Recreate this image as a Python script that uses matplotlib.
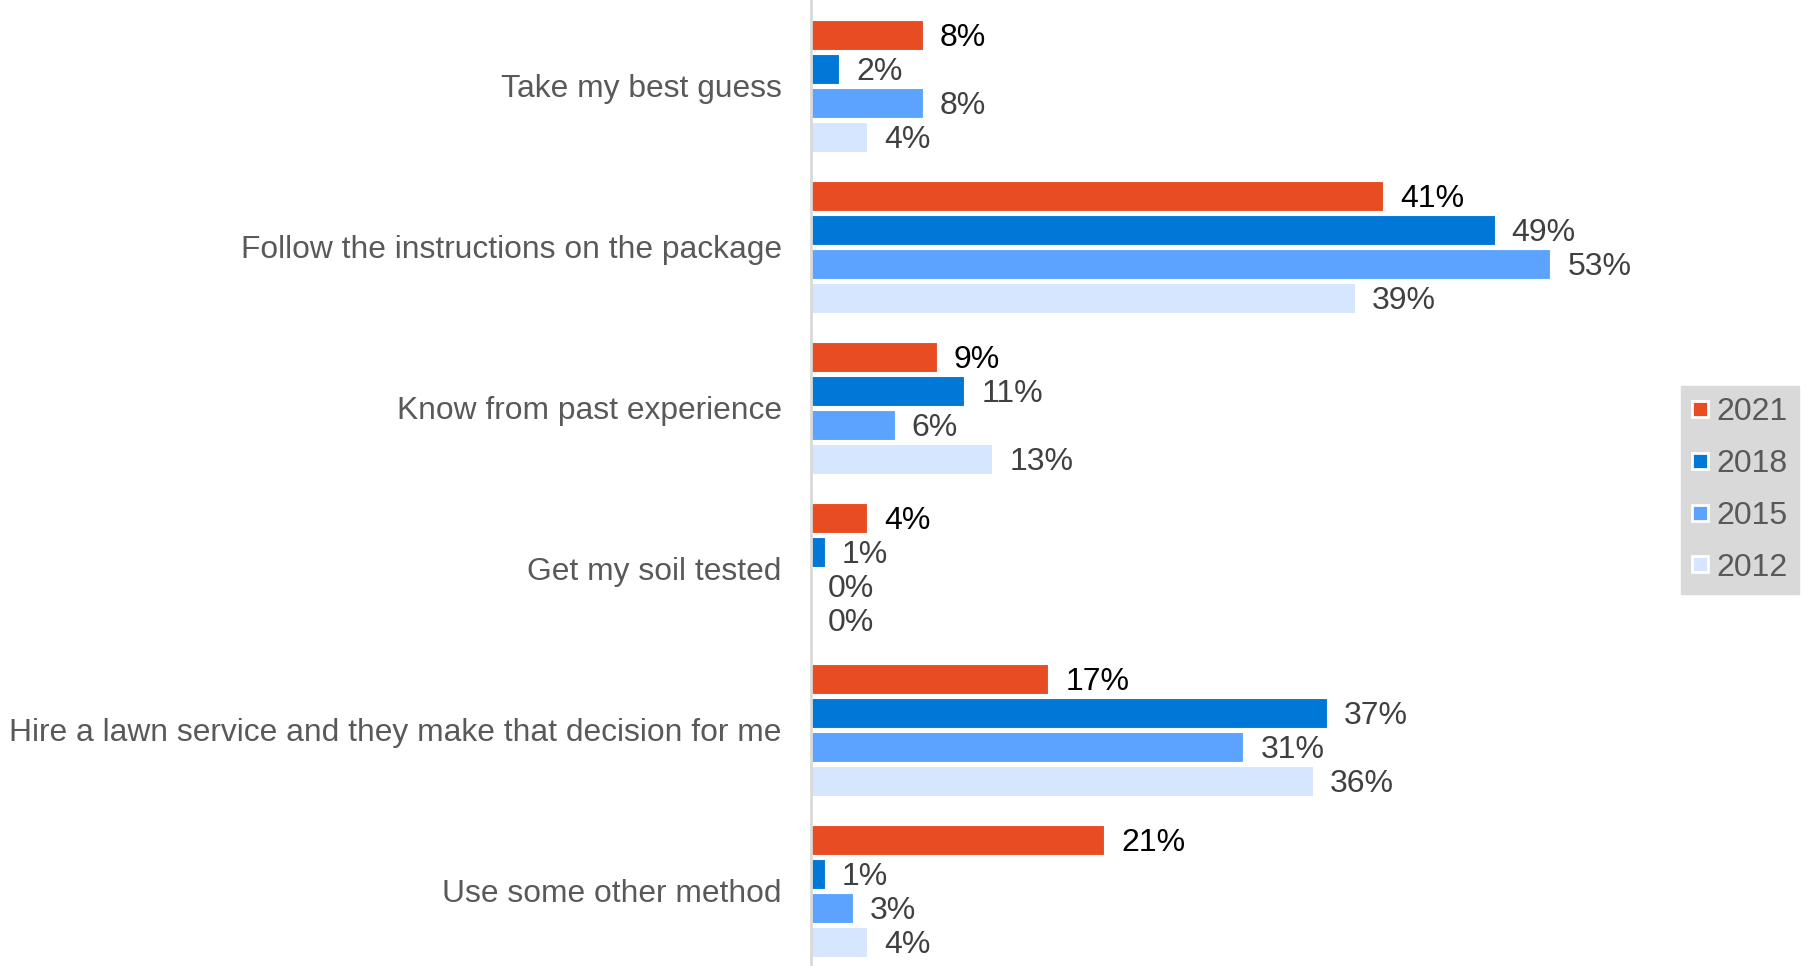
import matplotlib
matplotlib.use("Agg")
import matplotlib.pyplot as plt
from matplotlib.lines import Line2D
import numpy as np

categories = ["Take my best guess", "Follow the instructions on the package",
              "Know from past experience", "Get my soil tested",
              "Hire a lawn service and they make that decision for me",
              "Use some other method"]
years = ["2021", "2018", "2015", "2012"]
v2021 = [8, 41, 9, 4, 17, 21]
v2018 = [2, 49, 11, 1, 37, 1]
v2015 = [8, 53, 6, 0, 31, 3]
v2012 = [4, 39, 13, 0, 36, 4]
series = [v2021, v2018, v2015, v2012]
colors = ["#E84C22", "#0078D7", "#5BA3FF", "#D6E6FF"]
label_colors = ["#000000", "#404040", "#404040", "#404040"]

plt.rcParams['font.family'] = ['Liberation Sans', 'DejaVu Sans']
fig = plt.figure(figsize=(18.08, 9.66), dpi=100)
ax = fig.add_axes([811/1808, 0, 865/1808, 1])

y = np.arange(len(categories))
offsets = [-0.314, -0.102, 0.109, 0.320]
h = 0.186
for s, vals in enumerate(series):
    ax.barh(y + offsets[s], vals, height=h, color=colors[s], edgecolor='white', linewidth=0.8)
    for i, v in enumerate(vals):
        ax.annotate(f"{v:.0f}%", (v, y[i] + offsets[s]), xytext=(17, -3),
                    textcoords='offset pixels',
                    va='center', ha='left', fontsize=23, color=label_colors[s])

ax.set_xlim(0, 62)
ax.set_ylim(5.469, -0.531)
ax.set_yticks(y)
ax.set_yticklabels(categories, fontsize=22.9, color='#595959')
ax.tick_params(axis='y', length=0, pad=21)
ax.set_xticks([])
for sp in ['top', 'right', 'bottom']:
    ax.spines[sp].set_visible(False)
ax.spines['left'].set_color('#D9D9D9')
ax.spines['left'].set_linewidth(2)

handles = [Line2D([0], [0], marker='s', linestyle='none', markersize=11,
                  markerfacecolor=c, markeredgecolor='white', markeredgewidth=2)
           for c in colors]
leg = fig.legend(handles, years, loc='center left', bbox_to_anchor=(1681/1808, 1 - 490/966),
                 fontsize=23, frameon=True, facecolor='#D9D9D9', edgecolor='#D9D9D9',
                 handlelength=0.5, handletextpad=0.25, labelspacing=0.68,
                 borderpad=0.35, borderaxespad=0, fancybox=False, framealpha=1)
for t in leg.get_texts():
    t.set_color('#595959')

fig.savefig("out.png", dpi=100)
